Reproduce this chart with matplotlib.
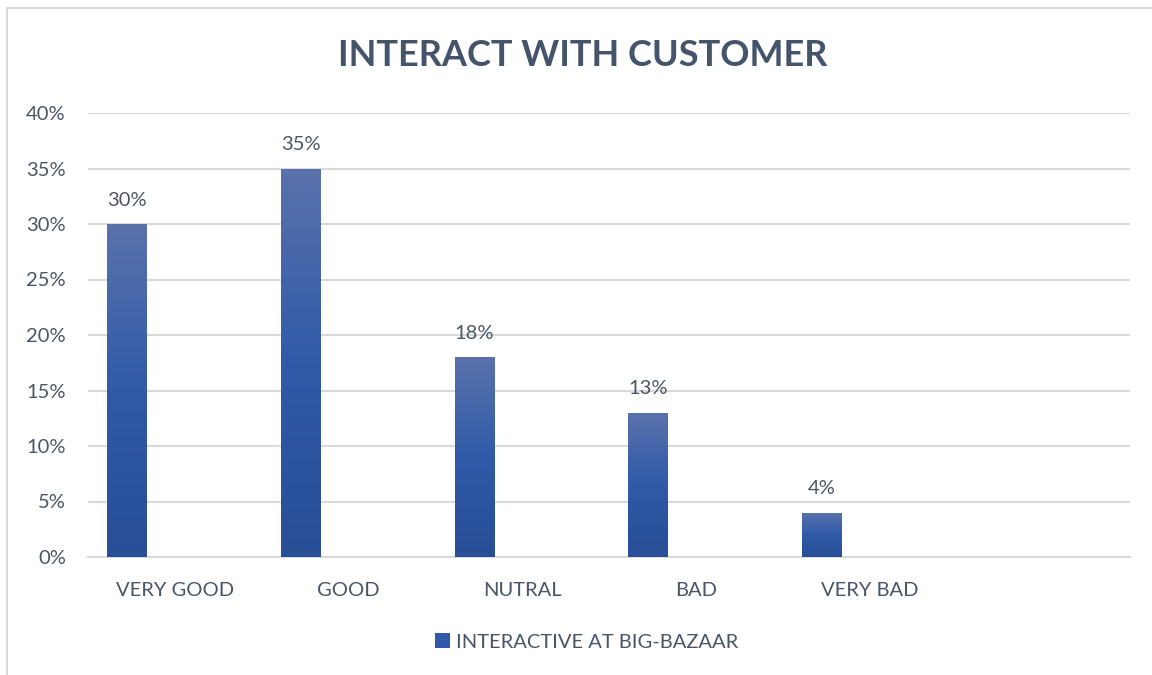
import matplotlib
matplotlib.use("Agg")
import matplotlib.pyplot as plt
import numpy as np
from matplotlib.patches import Rectangle, Patch

categories = ["VERY GOOD", "GOOD", "NUTRAL", "BAD", "VERY BAD", ""]
values = [0.30, 0.35, 0.18, 0.13, 0.04, None]
value_labels = ["30%", "35%", "18%", "13%", "4%", ""]
y_ticks = [0.0, 0.05, 0.10, 0.15, 0.20, 0.25, 0.30, 0.35, 0.40]
y_tick_labels = ["0%", "5%", "10%", "15%", "20%", "25%", "30%", "35%", "40%"]
series_name = "INTERACTIVE AT BIG-BAZAAR"
title = "INTERACT WITH CUSTOMER"

TEXT = "#4A5568"
TITLE_C = "#44546A"
GRID = "#D9D9D9"
TOP_C = np.array([90, 114, 172]) / 255
MID_C = np.array([48, 90, 168]) / 255
BOT_C = np.array([40, 78, 150]) / 255

plt.rcParams["font.family"] = ["Lato", "DejaVu Sans"]

fig = plt.figure(figsize=(11.52, 6.75), dpi=100)
W, H = 1152, 675
ax = fig.add_axes([88 / W, (H - 557) / H, (1130 - 88) / W, (557 - 113) / H])

# outer chart frame
fig.patches.append(Rectangle((7 / W, -0.05), 1.2, (H - 8) / H + 0.05,
                             transform=fig.transFigure, fill=False,
                             edgecolor=GRID, linewidth=1.5))

x = np.arange(len(categories))
offset = -0.276
width = 0.227

grad = np.linspace(0, 1, 256)[:, None]
cmap = matplotlib.colors.LinearSegmentedColormap.from_list(
    "g", [(0.0, BOT_C), (0.5, MID_C), (1.0, TOP_C)])

for xi, v, lab in zip(x, values, value_labels):
    if v is None:
        continue
    bar = ax.bar(xi + offset, v, width=width, color=MID_C, zorder=3)[0]
    img = ax.imshow(grad, extent=(xi + offset - width / 2, xi + offset + width / 2, 0, v),
                    origin="lower", cmap=cmap, aspect="auto", zorder=4)
    img.set_clip_path(bar)
    ax.annotate(lab, (xi + offset, v), xytext=(0, 24), textcoords="offset pixels",
                ha="center", va="center", fontsize=14.5, color=TEXT)

ax.set_xlim(-0.5, len(categories) - 0.5)
ax.set_ylim(0, 0.40)
ax.set_aspect("auto")
ax.set_yticks(y_ticks)
ax.set_yticklabels(y_tick_labels)
ax.set_xticks(x)
ax.set_xticklabels(categories)
ax.tick_params(axis="both", length=0, labelsize=14.5, labelcolor=TEXT)
ax.tick_params(axis="y", pad=16)
ax.tick_params(axis="x", pad=18)
ax.grid(axis="y", color=GRID, linewidth=1.5, zorder=0)
for s in ["top", "right", "left"]:
    ax.spines[s].set_visible(False)
ax.spines["bottom"].set_color(GRID)
ax.spines["bottom"].set_linewidth(1.5)
ax.set_axisbelow(True)

fig.text(583 / W, (H - 56) / H, title, ha="center", va="center",
         fontsize=26, fontweight="bold", color=TITLE_C)

handle = Patch(facecolor=MID_C, edgecolor="none")
fig.legend([handle], [series_name], loc="center", bbox_to_anchor=(587 / W, (H - 642) / H),
           frameon=False, fontsize=14.5, labelcolor=TEXT, handlelength=0.75,
           handleheight=0.75, handletextpad=0.3)

fig.savefig("out.png", dpi=100, facecolor="white")
